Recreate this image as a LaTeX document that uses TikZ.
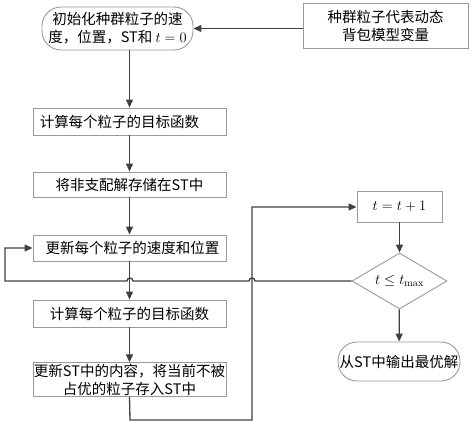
\documentclass[tikz,border=0pt]{standalone}
\usepackage{fontspec}
\newfontfamily\cjk{Noto Sans CJK SC}
\usetikzlibrary{shapes.geometric, arrows.meta, positioning, calc}
\definecolor{linegray}{HTML}{404040}
\definecolor{boxgray}{HTML}{9A9A9A}
\tikzset{
	block/.style={rectangle, draw=boxgray, line width=0.9pt, align=center, font=\cjk\fontsize{14.5}{18}\selectfont, inner sep=1pt},
	terminal/.style={rectangle, draw=boxgray, line width=0.9pt, rounded corners=19pt, align=center, font=\cjk\fontsize{14.5}{18}\selectfont, inner sep=1pt},
	decision/.style={diamond, draw=boxgray, line width=0.9pt, align=center, inner sep=0pt, font=\cjk\fontsize{14.5}{18}\selectfont},
	arr/.style={draw=linegray, line width=1.3pt, -{Triangle[length=8pt, width=7pt]}}
}

\begin{document}
\begin{tikzpicture}[x=1pt, y=1pt]
        \useasboundingbox (0,0) rectangle (472,-425);

        \node[terminal, minimum width=151pt, minimum height=43pt] (init) at (117.5,-28.5) {初始化种群粒子的速\\度，位置，ST和 $t=0$};
        \node[block, minimum width=165pt, minimum height=45pt] (vars) at (385.5,-25.5) {种群粒子代表动态\\背包模型变量};
        \node[block, minimum width=193pt, minimum height=27pt] (eval1) at (129.5,-121.5) {计算每个粒子的目标函数\hspace{20pt}};
        \node[block, minimum width=193pt, minimum height=25pt] (store) at (129.5,-184.5) {将非支配解存储在ST中};
        \node[block, minimum width=193pt, minimum height=26pt] (update) at (129.5,-248) {\hspace{6pt}更新每个粒子的速度和位置};
        \node[block, minimum width=193pt, minimum height=27pt] (eval2) at (129.5,-313.5) {计算每个粒子的目标函数};
        \node[block, minimum width=193pt, minimum height=33pt] (updst) at (129.5,-379.5) {更新ST中的内容，将当前不被\\占优的粒子存入ST中};

        \node[block, minimum width=85pt, minimum height=31pt] (inc) at (399.5,-206.5) {$t=t+1$};
        \node[decision, minimum width=95pt, minimum height=56pt, aspect=1.7] (cond) at (399.5,-281) {$t\le t_{\max}$};
        \node[terminal, minimum width=122pt, minimum height=39pt] (out) at (399,-361.5) {从ST中输出最优解};

        \coordinate (bottom) at (130,-420);
        \coordinate (bend) at (252,-207);
        \coordinate (loopleft) at (5,-281);
        \coordinate (jumpa) at (255,-281);
        \coordinate (jumpb) at (133,-281);

        \draw[arr] (vars.west |- init.east) -- (init.east);
        \draw[arr] (eval1.north |- init.south) -- (eval1.north);
        \draw[arr] (eval1) -- (store);
        \draw[arr] (store) -- (update);
        \draw[arr] (update) -- (eval2);
        \draw[arr] (eval2) -- (updst);

        \draw[arr] (updst.south) -- (bottom) -| (bend) -- (bend -| inc.west);
        \draw[arr] (inc) -- (cond);
        \draw[arr] (cond) -- (out);
        \draw[arr] (cond.west) -- (jumpa) arc (0:180:3pt) -- (jumpb) arc (0:180:3pt) -- (loopleft) |- (update.west);
\end{tikzpicture}
\end{document}
